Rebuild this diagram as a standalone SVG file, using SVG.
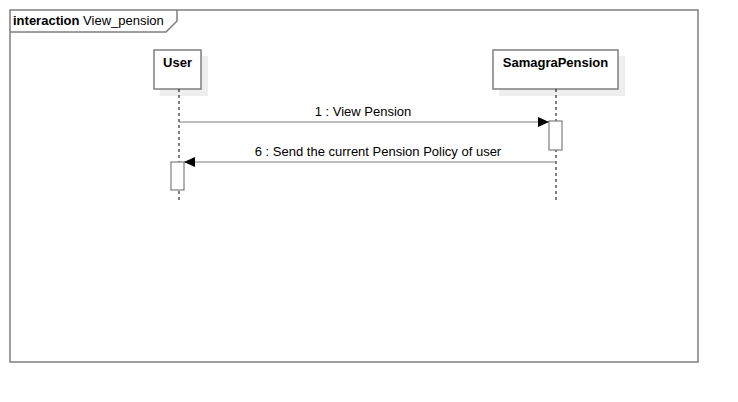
<svg xmlns="http://www.w3.org/2000/svg" width="738" height="402" viewBox="0 0 738 402">
<defs>
<marker id="arr" markerWidth="12" markerHeight="10" refX="11" refY="5" orient="auto" markerUnits="userSpaceOnUse">
<path d="M0,0 L11,5 L0,10 Z" fill="#000"/>
</marker>
</defs>
<style>
.frame{fill:none;stroke:#7f7f7f;stroke-width:1.5}
.box{fill:#fff;stroke:#7f7f7f;stroke-width:1.5}
.shadow{fill:#eeeeee}
.life{stroke:#000;stroke-width:1;stroke-dasharray:3,3}
.act{fill:#fff;stroke:#7f7f7f;stroke-width:1.2}
.msg{stroke:#7f7f7f;stroke-width:1.2;fill:none}
text{font-family:"Liberation Sans",Arial,sans-serif;font-size:13px;fill:#000}
.b{font-weight:bold}
</style>
<rect width="738" height="402" fill="#fff"/>
<g id="frame">
<rect class="frame" x="10" y="10" width="688" height="352"/>
<path class="frame" d="M10,32 L166,32 L177,21 L177,10"/>
<text x="13" y="25"><tspan class="b">interaction</tspan> View_pension</text>
</g>
<g id="user">
<rect class="shadow" x="160" y="56" width="48" height="40"/>
<rect class="box" x="154" y="50" width="47" height="39"/>
<text class="b" x="177.5" y="67" text-anchor="middle">User</text>
<line class="life" x1="179" y1="89" x2="179" y2="201"/>
<rect class="act" x="171" y="162" width="13" height="28"/>
</g>
<g id="samagra">
<rect class="shadow" x="499" y="56" width="126" height="40"/>
<rect class="box" x="493" y="50" width="125" height="39"/>
<text class="b" x="555.5" y="67" text-anchor="middle">SamagraPension</text>
<line class="life" x1="556" y1="89" x2="556" y2="201"/>
<rect class="act" x="549" y="121" width="13" height="29"/>
</g>
<g id="connectors">
<line class="msg" x1="179" y1="122" x2="549" y2="122" marker-end="url(#arr)"/>
<text x="363" y="116" text-anchor="middle">1 : View Pension</text>
<line class="msg" x1="556" y1="162" x2="184" y2="162" marker-end="url(#arr)"/>
<text x="378" y="156" text-anchor="middle">6 : Send the current Pension Policy of user</text>
</g>
</svg>
